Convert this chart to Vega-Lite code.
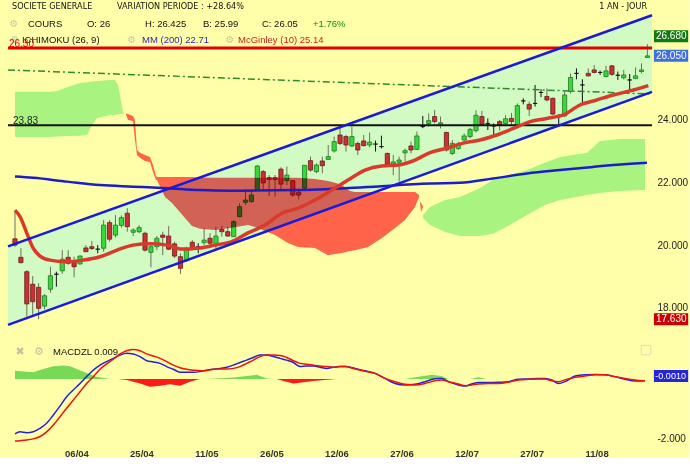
{
"$schema": "https://vega.github.io/schema/vega-lite/v6.json",
"background": "#ffffaa",
"padding": {"left": 3, "top": 0, "right": 0, "bottom": 0},
"spacing": 2,
"config": {"view": {"stroke": null}, "font": "Liberation Sans"},
"datasets": {
"chan": [{"i": -1.184, "up": 19.96, "lo": 17.45}, {"i": 107.78, "up": 27.35, "lo": 24.90}],
"dd": [{"i": -1.184, "v": 25.60}, {"i": 107.78, "v": 24.83}],
"cg": [
{"seg":"g1","i":0,"top":24.90,"bot":23.46},{"seg":"g1","i":3.05,"top":24.90,"bot":23.46},{"seg":"g1","i":5.92,"top":24.90,"bot":23.46},{"seg":"g1","i":7.11,"top":24.93,"bot":23.47},{"seg":"g1","i":8.80,"top":25.05,"bot":23.49},{"seg":"g1","i":11.0,"top":25.18,"bot":23.50},{"seg":"g1","i":12.18,"top":25.21,"bot":23.52},{"seg":"g1","i":13.03,"top":25.23,"bot":23.84},{"seg":"g1","i":13.87,"top":25.25,"bot":24.06},{"seg":"g1","i":16.07,"top":25.28,"bot":24.16},{"seg":"g1","i":16.92,"top":25.28,"bot":24.16},{"seg":"g1","i":17.43,"top":25.12,"bot":24.18},{"seg":"g1","i":18.27,"top":24.26,"bot":24.21},{"seg":"g1","i":18.53,"top":24.21,"bot":24.21},
{"seg":"g2","i":69.04,"top":20.96,"bot":20.87},{"seg":"g2","i":70.22,"top":21.22,"bot":20.64},{"seg":"g2","i":72.76,"top":21.44,"bot":20.42},{"seg":"g2","i":75.30,"top":21.54,"bot":20.29},{"seg":"g2","i":78.68,"top":21.83,"bot":20.29},{"seg":"g2","i":80.88,"top":22.08,"bot":20.36},{"seg":"g2","i":83.76,"top":22.24,"bot":20.64},{"seg":"g2","i":86.63,"top":22.40,"bot":20.96},{"seg":"g2","i":89.68,"top":22.63,"bot":21.28},{"seg":"g2","i":92.22,"top":22.82,"bot":21.44},{"seg":"g2","i":96.79,"top":22.95,"bot":21.60},{"seg":"g2","i":98.98,"top":23.33,"bot":21.67},{"seg":"g2","i":102.37,"top":23.39,"bot":21.73},{"seg":"g2","i":106.6,"top":23.39,"bot":21.76}
],
"cr": [
{"seg":"r1","i":18.78,"top":24.21,"bot":24.18},{"seg":"r1","i":19.12,"top":24.19,"bot":24.00},{"seg":"r1","i":19.97,"top":24.13,"bot":23.97},{"seg":"r1","i":20.30,"top":24.00,"bot":23.36},{"seg":"r1","i":20.64,"top":23.04,"bot":22.88},{"seg":"r1","i":21.15,"top":22.95,"bot":22.79},{"seg":"r1","i":22.0,"top":22.88,"bot":22.69},{"seg":"r1","i":22.84,"top":22.82,"bot":22.66},{"seg":"r1","i":23.35,"top":22.56,"bot":22.34},{"seg":"r1","i":23.86,"top":22.21,"bot":22.08},{"seg":"r1","i":24.03,"top":22.18,"bot":22.08},{"seg":"r1","i":25.38,"top":22.18,"bot":21.54},{"seg":"r1","i":26.57,"top":22.18,"bot":21.35},{"seg":"r1","i":28.76,"top":22.18,"bot":20.87},{"seg":"r1","i":29.95,"top":22.18,"bot":20.61},{"seg":"r1","i":31.30,"top":22.16,"bot":20.52},{"seg":"r1","i":33.84,"top":22.15,"bot":20.48},{"seg":"r1","i":36.38,"top":22.15,"bot":20.55},{"seg":"r1","i":39.42,"top":22.15,"bot":20.64},{"seg":"r1","i":41.12,"top":22.15,"bot":20.55},{"seg":"r1","i":42.30,"top":22.15,"bot":20.45},{"seg":"r1","i":43.99,"top":22.15,"bot":20.32},{"seg":"r1","i":46.19,"top":22.15,"bot":20.07},{"seg":"r1","i":47.88,"top":22.15,"bot":19.94},{"seg":"r1","i":50.76,"top":22.11,"bot":19.91},{"seg":"r1","i":52.96,"top":22.05,"bot":19.68},{"seg":"r1","i":54.15,"top":21.99,"bot":19.72},{"seg":"r1","i":55.33,"top":21.92,"bot":19.75},{"seg":"r1","i":56.68,"top":21.73,"bot":19.81},{"seg":"r1","i":57.53,"top":21.70,"bot":19.84},{"seg":"r1","i":59.73,"top":21.70,"bot":19.94},{"seg":"r1","i":62.10,"top":21.70,"bot":20.23},{"seg":"r1","i":64.30,"top":21.70,"bot":20.55},{"seg":"r1","i":65.99,"top":21.70,"bot":20.80},{"seg":"r1","i":67.68,"top":21.70,"bot":21.22},{"seg":"r1","i":68.36,"top":21.60,"bot":21.54},
{"seg":"r2","i":68.53,"top":21.40,"bot":21.35},{"seg":"r2","i":68.70,"top":21.35,"bot":21.06},{"seg":"r2","i":69.0,"top":21.25,"bot":21.20}
],
"cdl": [
{"i":0,"o":20.20,"h":21.07,"l":19.95,"c":20.00},{"i":1,"o":19.61,"h":19.90,"l":19.42,"c":19.44},{"i":2,"o":19.15,"h":19.20,"l":17.71,"c":18.12},{"i":3,"o":18.75,"h":19.01,"l":17.71,"c":18.19},{"i":4,"o":18.65,"h":18.78,"l":17.63,"c":17.98},{"i":5,"o":18.05,"h":18.44,"l":17.95,"c":18.38},{"i":6,"o":18.59,"h":19.31,"l":18.48,"c":19.02},{"i":7,"o":19.07,"h":19.15,"l":18.67,"c":19.07},{"i":8,"o":19.18,"h":19.84,"l":19.08,"c":19.55},{"i":9,"o":19.61,"h":19.84,"l":19.37,"c":19.42},
{"i":10,"o":19.49,"h":19.63,"l":18.97,"c":19.31},{"i":11,"o":19.40,"h":19.68,"l":19.37,"c":19.65},{"i":12,"o":19.91,"h":20.00,"l":19.79,"c":19.79},{"i":13,"o":19.95,"h":20.13,"l":19.84,"c":19.89},{"i":14,"o":19.87,"h":20.00,"l":19.74,"c":19.87},{"i":15,"o":19.90,"h":20.80,"l":19.79,"c":20.64},{"i":16,"o":20.72,"h":20.80,"l":20.11,"c":20.19},{"i":17,"o":20.32,"h":20.96,"l":20.25,"c":20.64},{"i":18,"o":20.63,"h":20.95,"l":20.56,"c":20.88},{"i":19,"o":21.02,"h":21.18,"l":20.43,"c":20.59},
{"i":20,"o":20.41,"h":20.54,"l":20.29,"c":20.48},{"i":21,"o":20.43,"h":20.64,"l":20.38,"c":20.56},{"i":22,"o":20.38,"h":20.43,"l":19.79,"c":19.84},{"i":23,"o":19.77,"h":20.00,"l":19.29,"c":19.95},{"i":24,"o":19.95,"h":20.29,"l":19.84,"c":20.22},{"i":25,"o":20.32,"h":20.43,"l":19.68,"c":20.25},{"i":26,"o":20.29,"h":20.61,"l":19.84,"c":19.87},{"i":27,"o":20.04,"h":20.11,"l":19.58,"c":19.65},{"i":28,"o":19.63,"h":19.74,"l":19.08,"c":19.26},{"i":29,"o":19.50,"h":19.95,"l":19.47,"c":19.87},
{"i":30,"o":20.09,"h":20.16,"l":19.84,"c":19.87},{"i":31,"o":19.95,"h":20.06,"l":19.74,"c":19.95},{"i":32,"o":20.08,"h":20.54,"l":20.00,"c":20.16},{"i":33,"o":20.22,"h":20.38,"l":19.90,"c":20.06},{"i":34,"o":20.00,"h":20.59,"l":19.84,"c":20.29},{"i":35,"o":20.50,"h":20.61,"l":20.27,"c":20.43},{"i":36,"o":20.43,"h":20.59,"l":20.27,"c":20.29},{"i":37,"o":20.27,"h":20.80,"l":20.27,"c":20.75},{"i":38,"o":20.91,"h":21.34,"l":20.89,"c":21.23},{"i":39,"o":21.37,"h":21.79,"l":21.28,"c":21.44},
{"i":40,"o":21.39,"h":21.76,"l":21.36,"c":21.60},{"i":41,"o":21.78,"h":22.56,"l":21.76,"c":22.53},{"i":42,"o":22.35,"h":22.40,"l":21.76,"c":21.99},{"i":43,"o":22.16,"h":22.24,"l":21.57,"c":22.10},{"i":44,"o":22.16,"h":22.24,"l":21.55,"c":22.10},{"i":45,"o":22.43,"h":22.49,"l":21.76,"c":21.95},{"i":46,"o":22.06,"h":22.51,"l":21.92,"c":22.24},{"i":47,"o":22.06,"h":22.08,"l":21.55,"c":21.60},{"i":48,"o":21.69,"h":21.78,"l":21.46,"c":21.60},{"i":49,"o":21.82,"h":22.56,"l":21.78,"c":22.55},
{"i":50,"o":22.70,"h":22.83,"l":22.35,"c":22.40},{"i":51,"o":22.35,"h":22.61,"l":22.30,"c":22.56},{"i":52,"o":22.69,"h":22.83,"l":22.30,"c":22.54},{"i":53,"o":22.74,"h":23.20,"l":22.72,"c":22.83},{"i":54,"o":23.01,"h":23.47,"l":22.96,"c":23.31},{"i":55,"o":23.52,"h":23.79,"l":23.20,"c":23.25},{"i":56,"o":23.47,"h":23.52,"l":22.99,"c":23.20},{"i":57,"o":23.17,"h":23.79,"l":23.13,"c":23.47},{"i":58,"o":23.25,"h":23.31,"l":22.88,"c":23.04},{"i":59,"o":23.33,"h":23.52,"l":23.15,"c":23.18},
{"i":60,"o":23.20,"h":23.60,"l":23.13,"c":23.29},{"i":61,"o":23.23,"h":23.34,"l":22.99,"c":23.23},{"i":62,"o":23.15,"h":23.50,"l":23.09,"c":23.15},{"i":63,"o":22.93,"h":22.96,"l":22.53,"c":22.59},{"i":64,"o":22.59,"h":22.88,"l":22.24,"c":22.66},{"i":65,"o":22.65,"h":22.83,"l":22.03,"c":22.72},{"i":66,"o":22.95,"h":23.09,"l":22.67,"c":23.02},{"i":67,"o":23.17,"h":23.31,"l":22.93,"c":23.04},{"i":68,"o":23.06,"h":23.63,"l":23.04,"c":23.49},{"i":69,"o":23.79,"h":24.13,"l":23.74,"c":23.79},
{"i":70,"o":23.89,"h":24.21,"l":23.79,"c":23.98},{"i":71,"o":24.11,"h":24.32,"l":23.89,"c":23.95},{"i":72,"o":23.87,"h":24.11,"l":23.73,"c":23.91},{"i":73,"o":23.60,"h":23.63,"l":22.99,"c":23.04},{"i":74,"o":22.93,"h":23.36,"l":22.88,"c":23.25},{"i":75,"o":23.09,"h":23.30,"l":23.04,"c":23.23},{"i":76,"o":23.36,"h":23.57,"l":23.31,"c":23.49},{"i":77,"o":23.47,"h":23.75,"l":23.41,"c":23.70},{"i":78,"o":23.66,"h":24.31,"l":23.60,"c":24.15},{"i":79,"o":24.11,"h":24.29,"l":23.81,"c":23.86},
{"i":80,"o":23.89,"h":24.05,"l":23.68,"c":23.89},{"i":81,"o":23.81,"h":23.89,"l":23.52,"c":23.81},{"i":82,"o":23.95,"h":24.00,"l":23.66,"c":23.84},{"i":83,"o":23.89,"h":24.15,"l":23.85,"c":24.04},{"i":84,"o":24.05,"h":24.23,"l":23.84,"c":23.95},{"i":85,"o":23.81,"h":24.53,"l":23.81,"c":24.46},{"i":86,"o":24.61,"h":24.69,"l":24.50,"c":24.61},{"i":87,"o":24.50,"h":24.59,"l":24.13,"c":24.35},{"i":88,"o":24.53,"h":25.12,"l":24.43,"c":24.53},{"i":89,"o":24.88,"h":24.98,"l":24.73,"c":24.88},
{"i":90,"o":24.75,"h":25.01,"l":24.59,"c":24.64},{"i":91,"o":24.69,"h":24.72,"l":24.16,"c":24.19},{"i":92,"o":24.14,"h":24.19,"l":23.79,"c":24.14},{"i":93,"o":24.13,"h":24.91,"l":24.09,"c":24.80},{"i":94,"o":24.91,"h":25.49,"l":24.85,"c":25.36},{"i":95,"o":25.49,"h":25.65,"l":25.30,"c":25.49},{"i":96,"o":25.12,"h":25.30,"l":24.55,"c":25.12},{"i":97,"o":25.49,"h":25.65,"l":25.39,"c":25.41},{"i":98,"o":25.60,"h":25.76,"l":25.49,"c":25.52},{"i":99,"o":25.52,"h":25.58,"l":25.44,"c":25.52},
{"i":100,"o":25.39,"h":25.73,"l":25.36,"c":25.57},{"i":101,"o":25.73,"h":25.76,"l":25.41,"c":25.46},{"i":102,"o":25.43,"h":25.55,"l":25.28,"c":25.43},{"i":103,"o":25.35,"h":25.60,"l":25.30,"c":25.44},{"i":104,"o":25.28,"h":25.47,"l":24.96,"c":25.28},{"i":105,"o":25.33,"h":25.68,"l":25.30,"c":25.41},{"i":106,"o":25.55,"h":25.81,"l":25.49,"c":25.60},{"i":107,"o":26.00,"h":26.425,"l":25.99,"c":26.05}
],
"mm": [{"i":0,"v":22.19},{"i":3.05,"v":22.15},{"i":8.80,"v":22.03},{"i":14.38,"v":21.92},{"i":19.97,"v":21.87},{"i":25.72,"v":21.82},{"i":31.30,"v":21.76},{"i":36.38,"v":21.74},{"i":47.72,"v":21.76},{"i":58.88,"v":21.85},{"i":70.22,"v":21.97},{"i":75.30,"v":21.99},{"i":80.88,"v":22.13},{"i":86.63,"v":22.29},{"i":92.22,"v":22.40},{"i":97.80,"v":22.50},{"i":103.55,"v":22.59},{"i":106.94,"v":22.63}],
"mcg": [{"i":0,"v":21.12},{"i":0.85,"v":20.91},{"i":1.98,"v":20.39},{"i":3.05,"v":19.91},{"i":4.23,"v":19.65},{"i":5.92,"v":19.52},{"i":8.80,"v":19.47},{"i":11.51,"v":19.52},{"i":14.38,"v":19.63},{"i":17.26,"v":19.84},{"i":19.97,"v":20.0},{"i":22.84,"v":20.04},{"i":25.72,"v":20.0},{"i":27.92,"v":19.88},{"i":29.61,"v":19.88},{"i":31.30,"v":19.91},{"i":33.84,"v":20.0},{"i":36.67,"v":20.11},{"i":39.42,"v":20.39},{"i":42.30,"v":20.64},{"i":45.13,"v":21.02},{"i":47.88,"v":21.18},{"i":50.76,"v":21.44},{"i":53.59,"v":21.76},{"i":56.35,"v":22.08},{"i":59.22,"v":22.40},{"i":62.05,"v":22.53},{"i":64.81,"v":22.56},{"i":67.68,"v":22.72},{"i":70.22,"v":22.96},{"i":73.05,"v":23.10},{"i":75.85,"v":23.26},{"i":78.68,"v":23.36},{"i":81.51,"v":23.52},{"i":84.31,"v":23.73},{"i":87.14,"v":23.95},{"i":89.97,"v":24.05},{"i":92.77,"v":24.16},{"i":95.60,"v":24.48},{"i":98.43,"v":24.64},{"i":101.23,"v":24.80},{"i":104.06,"v":24.93},{"i":107.16,"v":25.10}],
"tagT": [{"v":26.68,"t":"26.680","k":"g"},{"v":26.05,"t":"26.050","k":"b"},{"v":17.63,"t":"17.630","k":"r"}],
"macd": [{"i":0,"m":-1.86,"s":-2.10},{"i":0.85,"m":-1.79,"s":-2.09},{"i":1.97,"m":-1.82,"s":-2.07},{"i":3.10,"m":-1.79,"s":-2.03},{"i":4.23,"m":-1.67,"s":-1.95},{"i":5.36,"m":-1.50,"s":-1.79},{"i":6.49,"m":-1.22,"s":-1.56},{"i":7.61,"m":-0.92,"s":-1.28},{"i":8.74,"m":-0.60,"s":-0.99},{"i":9.87,"m":-0.37,"s":-0.71},{"i":11.0,"m":-0.15,"s":-0.43},{"i":12.13,"m":0.08,"s":-0.15},{"i":13.25,"m":0.30,"s":0.08},{"i":14.38,"m":0.47,"s":0.33},{"i":15.51,"m":0.59,"s":0.51},{"i":16.64,"m":0.70,"s":0.67},{"i":17.77,"m":0.81,"s":0.85},{"i":18.90,"m":0.87,"s":0.96},{"i":20.02,"m":0.85,"s":1.00},{"i":21.15,"m":0.76,"s":0.96},{"i":22.28,"m":0.62,"s":0.85},{"i":23.41,"m":0.58,"s":0.78},{"i":24.54,"m":0.53,"s":0.70},{"i":25.66,"m":0.42,"s":0.59},{"i":26.79,"m":0.33,"s":0.47},{"i":27.92,"m":0.23,"s":0.38},{"i":29.05,"m":0.23,"s":0.33},{"i":30.18,"m":0.23,"s":0.30},{"i":31.30,"m":0.25,"s":0.28},{"i":32.43,"m":0.30,"s":0.29},{"i":33.56,"m":0.33,"s":0.33},{"i":34.69,"m":0.36,"s":0.34},{"i":35.82,"m":0.40,"s":0.34},{"i":36.94,"m":0.47,"s":0.36},{"i":38.07,"m":0.56,"s":0.42},{"i":39.20,"m":0.64,"s":0.53},{"i":40.33,"m":0.73,"s":0.64},{"i":41.46,"m":0.81,"s":0.76},{"i":42.58,"m":0.81,"s":0.81},{"i":43.71,"m":0.76,"s":0.81},{"i":44.84,"m":0.70,"s":0.80},{"i":45.97,"m":0.64,"s":0.73},{"i":47.10,"m":0.56,"s":0.62},{"i":48.22,"m":0.42,"s":0.53},{"i":49.35,"m":0.44,"s":0.50},{"i":50.48,"m":0.44,"s":0.47},{"i":51.61,"m":0.40,"s":0.44},{"i":52.74,"m":0.36,"s":0.42},{"i":53.86,"m":0.40,"s":0.40},{"i":54.99,"m":0.42,"s":0.42},{"i":55.84,"m":0.42,"s":0.42},{"i":57.53,"m":0.36,"s":0.34},{"i":59.22,"m":0.28,"s":0.26},{"i":60.92,"m":0.19,"s":0.19},{"i":62.61,"m":0.02,"s":0.02},{"i":64.30,"m":-0.15,"s":-0.09},{"i":65.99,"m":-0.20,"s":-0.18},{"i":67.68,"m":-0.18,"s":-0.20},{"i":69.38,"m":-0.09,"s":-0.15},{"i":71.07,"m":0.01,"s":-0.06},{"i":72.20,"m":0.02,"s":-0.03},{"i":73.32,"m":-0.09,"s":-0.09},{"i":75.02,"m":-0.20,"s":-0.17},{"i":76.14,"m":-0.24,"s":-0.23},{"i":77.27,"m":-0.17,"s":-0.20},{"i":78.40,"m":-0.12,"s":-0.17},{"i":80.09,"m":-0.12,"s":-0.15},{"i":81.78,"m":-0.11,"s":-0.15},{"i":83.48,"m":-0.09,"s":-0.11},{"i":85.17,"m":-0.01,"s":-0.03},{"i":86.86,"m":0.0,"s":-0.01},{"i":88.55,"m":0.02,"s":0.0},{"i":89.68,"m":0.02,"s":0.0},{"i":90.81,"m":-0.03,"s":-0.06},{"i":91.94,"m":-0.15,"s":-0.09},{"i":93.06,"m":-0.09,"s":-0.03},{"i":94.76,"m":0.10,"s":0.06},{"i":96.45,"m":0.14,"s":0.10},{"i":98.14,"m":0.15,"s":0.14},{"i":99.83,"m":0.14,"s":0.14},{"i":101.53,"m":0.08,"s":0.08},{"i":103.22,"m":-0.01,"s":0.02},{"i":104.91,"m":-0.07,"s":-0.03},{"i":106.60,"m":-0.06,"s":-0.06}],
"hg": [{"seg":"a","i":0,"h":0.28},{"seg":"a","i":1.97,"h":0.25},{"seg":"a","i":3.10,"h":0.23},{"seg":"a","i":4.79,"h":0.34},{"seg":"a","i":6.49,"h":0.43},{"seg":"a","i":8.18,"h":0.46},{"seg":"a","i":9.31,"h":0.43},{"seg":"a","i":10.43,"h":0.34},{"seg":"a","i":12.13,"h":0.20},{"seg":"a","i":13.82,"h":0.08},{"seg":"a","i":15.51,"h":0.02},{"seg":"a","i":16.07,"h":0},
{"seg":"b","i":32.43,"h":0},{"seg":"b","i":36.94,"h":0.05},{"seg":"b","i":40.89,"h":0.14},{"seg":"b","i":42.58,"h":0.02},{"seg":"b","i":43.71,"h":0},
{"seg":"c","i":65.99,"h":0},{"seg":"c","i":68.26,"h":0.08},{"seg":"c","i":70.5,"h":0.14},{"seg":"c","i":72.2,"h":0.10},{"seg":"c","i":73.3,"h":0},
{"seg":"d","i":77.0,"h":0},{"seg":"d","i":78.4,"h":0.06},{"seg":"d","i":79.8,"h":0}],
"hr": [{"seg":"a","i":17.48,"h":0},{"seg":"a","i":18.90,"h":-0.03},{"seg":"a","i":21.15,"h":-0.15},{"seg":"a","i":22.84,"h":-0.26},{"seg":"a","i":24.54,"h":-0.23},{"seg":"a","i":26.23,"h":-0.18},{"seg":"a","i":27.92,"h":-0.23},{"seg":"a","i":29.61,"h":-0.09},{"seg":"a","i":31.30,"h":0},
{"seg":"b","i":44.28,"h":0},{"seg":"b","i":45.40,"h":-0.07},{"seg":"b","i":47.10,"h":-0.15},{"seg":"b","i":48.22,"h":-0.13},{"seg":"b","i":50.48,"h":-0.07},{"seg":"b","i":53.86,"h":-0.01},{"seg":"b","i":54.43,"h":0}],
"tagM": [{"v":0.10,"t":"-0.0010"}]
},
"vconcat": [
{
"width": 644, "height": 338,
"layer": [
{"data": {"name": "chan"}, "mark": {"type": "area", "color": "#d2fac3"},
 "encoding": {"x": {"field": "i", "type": "quantitative", "scale": {"domain": [-1.184, 107.78], "nice": false, "zero": false, "padding": 0}, "axis": null},
  "y": {"field": "up", "type": "quantitative", "scale": {"domain": [17.031, 27.836], "nice": false, "zero": false, "padding": 0}, "axis": {"orient": "right", "values": [18, 20, 22, 24], "format": ".3f", "labelFontSize": 10, "labelColor": "#222222", "labelPadding": 5, "title": null, "grid": false, "ticks": false, "domain": false}},
  "y2": {"field": "lo"}}},
{"data": {"name": "cg"}, "mark": {"type": "area", "color": "#a9f480"},
 "encoding": {"x": {"field": "i", "type": "quantitative", "scale": {"domain": [-1.184, 107.78], "nice": false, "zero": false, "padding": 0}, "axis": null},
  "y": {"field": "top", "type": "quantitative", "scale": {"domain": [17.031, 27.836], "nice": false, "zero": false, "padding": 0}},
  "y2": {"field": "bot"}, "detail": {"field": "seg"}}},
{"data": {"name": "cdl"}, "mark": {"type": "rule", "strokeWidth": 1},
 "encoding": {"x": {"field": "i", "type": "quantitative", "scale": {"domain": [-1.184, 107.78], "nice": false, "zero": false, "padding": 0}, "axis": null},
  "y": {"field": "l", "type": "quantitative", "scale": {"domain": [17.031, 27.836], "nice": false, "zero": false, "padding": 0}},
  "y2": {"field": "h"},
  "color": {"condition": {"test": "datum.o == datum.c", "value": "#111111"}, "value": "#6e6e60"}}},
{"data": {"name": "cdl"}, "mark": {"type": "bar", "size": 4.2, "strokeWidth": 0.8},
 "encoding": {"x": {"field": "i", "type": "quantitative", "scale": {"domain": [-1.184, 107.78], "nice": false, "zero": false, "padding": 0}, "axis": null},
  "y": {"field": "o", "type": "quantitative", "scale": {"domain": [17.031, 27.836], "nice": false, "zero": false, "padding": 0}},
  "y2": {"field": "c"},
  "fill": {"condition": [{"test": "datum.c > datum.o", "value": "#37d93a"}, {"test": "datum.c < datum.o", "value": "#c93232"}], "value": "#111111"},
  "stroke": {"condition": [{"test": "datum.c > datum.o", "value": "#1d7a1d"}, {"test": "datum.c < datum.o", "value": "#6b1a1a"}], "value": "#111111"}}},
{"data": {"name": "cr"}, "mark": {"type": "area", "color": "#ff6470", "blend": "multiply"},
 "encoding": {"x": {"field": "i", "type": "quantitative", "scale": {"domain": [-1.184, 107.78], "nice": false, "zero": false, "padding": 0}, "axis": null},
  "y": {"field": "top", "type": "quantitative", "scale": {"domain": [17.031, 27.836], "nice": false, "zero": false, "padding": 0}},
  "y2": {"field": "bot"}, "detail": {"field": "seg"}}},
{"data": {"values": [{}]}, "mark": {"type": "rule", "color": "#e00000", "strokeWidth": 3},
 "encoding": {"y": {"datum": 26.30, "type": "quantitative", "scale": {"domain": [17.031, 27.836], "nice": false, "zero": false, "padding": 0}}}},
{"data": {"values": [{}]}, "mark": {"type": "rule", "color": "#111111", "strokeWidth": 2},
 "encoding": {"y": {"datum": 23.83, "type": "quantitative", "scale": {"domain": [17.031, 27.836], "nice": false, "zero": false, "padding": 0}}}},
{"data": {"name": "dd"}, "mark": {"type": "line", "color": "#2d8a2d", "strokeWidth": 1.5, "strokeDash": [7, 3, 2, 3]},
 "encoding": {"x": {"field": "i", "type": "quantitative", "scale": {"domain": [-1.184, 107.78], "nice": false, "zero": false, "padding": 0}, "axis": null},
  "y": {"field": "v", "type": "quantitative", "scale": {"domain": [17.031, 27.836], "nice": false, "zero": false, "padding": 0}}}},
{"data": {"name": "mm"}, "mark": {"type": "line", "color": "#1c1cc8", "strokeWidth": 2.5, "interpolate": "monotone"},
 "encoding": {"x": {"field": "i", "type": "quantitative", "scale": {"domain": [-1.184, 107.78], "nice": false, "zero": false, "padding": 0}, "axis": null},
  "y": {"field": "v", "type": "quantitative", "scale": {"domain": [17.031, 27.836], "nice": false, "zero": false, "padding": 0}}}},
{"data": {"name": "mcg"}, "mark": {"type": "line", "color": "#d93a2b", "strokeWidth": 3.5, "interpolate": "monotone"},
 "encoding": {"x": {"field": "i", "type": "quantitative", "scale": {"domain": [-1.184, 107.78], "nice": false, "zero": false, "padding": 0}, "axis": null},
  "y": {"field": "v", "type": "quantitative", "scale": {"domain": [17.031, 27.836], "nice": false, "zero": false, "padding": 0}}}},
{"data": {"name": "chan"}, "mark": {"type": "line", "color": "#1a1ad8", "strokeWidth": 2.5},
 "encoding": {"x": {"field": "i", "type": "quantitative", "scale": {"domain": [-1.184, 107.78], "nice": false, "zero": false, "padding": 0}, "axis": null},
  "y": {"field": "up", "type": "quantitative", "scale": {"domain": [17.031, 27.836], "nice": false, "zero": false, "padding": 0}}}},
{"data": {"name": "chan"}, "mark": {"type": "line", "color": "#1a1ad8", "strokeWidth": 2.5},
 "encoding": {"x": {"field": "i", "type": "quantitative", "scale": {"domain": [-1.184, 107.78], "nice": false, "zero": false, "padding": 0}, "axis": null},
  "y": {"field": "lo", "type": "quantitative", "scale": {"domain": [17.031, 27.836], "nice": false, "zero": false, "padding": 0}}}},
{"data": {"name": "tagT"}, "mark": {"type": "bar", "size": 12},
 "encoding": {"x": {"datum": 108.1, "type": "quantitative", "scale": {"domain": [-1.184, 107.78], "nice": false, "zero": false, "padding": 0}, "axis": null},
  "x2": {"datum": 113.9},
  "y": {"field": "v", "type": "quantitative", "scale": {"domain": [17.031, 27.836], "nice": false, "zero": false, "padding": 0}},
  "color": {"field": "k", "type": "nominal", "scale": {"domain": ["g", "b", "r"], "range": ["#127a12", "#3d6fe0", "#cc0000"]}, "legend": null}}},
{"data": {"name": "tagT"}, "mark": {"type": "text", "align": "left", "baseline": "middle", "color": "white", "fontSize": 10},
 "encoding": {"x": {"datum": 108.45, "type": "quantitative", "scale": {"domain": [-1.184, 107.78], "nice": false, "zero": false, "padding": 0}, "axis": null},
  "y": {"field": "v", "type": "quantitative", "scale": {"domain": [17.031, 27.836], "nice": false, "zero": false, "padding": 0}},
  "text": {"field": "t"}}},
{"data": {"values": [{}]}, "mark": {"type": "text", "align": "left", "baseline": "middle", "fontSize": 9, "color": "#111111", "font": "Liberation Sans Narrow, DejaVu Sans Condensed, Liberation Sans", "text": "SOCIETE GENERALE"},
 "encoding": {"x": {"datum": -0.51, "type": "quantitative", "scale": {"domain": [-1.184, 107.78], "nice": false, "zero": false, "padding": 0}, "axis": null}, "y": {"datum": 27.63, "type": "quantitative", "scale": {"domain": [17.031, 27.836], "nice": false, "zero": false, "padding": 0}}}},
{"data": {"values": [{}]}, "mark": {"type": "text", "align": "left", "baseline": "middle", "fontSize": 9, "color": "#111111", "font": "Liberation Sans Narrow, DejaVu Sans Condensed, Liberation Sans", "text": "VARIATION PERIODE : +28.64%"},
 "encoding": {"x": {"datum": 17.26, "type": "quantitative", "scale": {"domain": [-1.184, 107.78], "nice": false, "zero": false, "padding": 0}, "axis": null}, "y": {"datum": 27.63, "type": "quantitative", "scale": {"domain": [17.031, 27.836], "nice": false, "zero": false, "padding": 0}}}},
{"data": {"values": [{}]}, "mark": {"type": "text", "align": "right", "baseline": "middle", "fontSize": 9, "color": "#111111", "font": "Liberation Sans Narrow, DejaVu Sans Condensed, Liberation Sans", "text": "1 AN - JOUR"},
 "encoding": {"x": {"datum": 106.94, "type": "quantitative", "scale": {"domain": [-1.184, 107.78], "nice": false, "zero": false, "padding": 0}, "axis": null}, "y": {"datum": 27.63, "type": "quantitative", "scale": {"domain": [17.031, 27.836], "nice": false, "zero": false, "padding": 0}}}},
{"data": {"values": [{}]}, "mark": {"type": "text", "align": "center", "baseline": "middle", "fontSize": 10, "color": "#c8c8a8", "font": "DejaVu Sans", "text": "⚙"},
 "encoding": {"x": {"datum": -0.17, "type": "quantitative", "scale": {"domain": [-1.184, 107.78], "nice": false, "zero": false, "padding": 0}, "axis": null}, "y": {"datum": 27.07, "type": "quantitative", "scale": {"domain": [17.031, 27.836], "nice": false, "zero": false, "padding": 0}}}},
{"data": {"values": [{}]}, "mark": {"type": "text", "align": "left", "baseline": "middle", "fontSize": 9.5, "color": "#111111", "text": "COURS"},
 "encoding": {"x": {"datum": 2.2, "type": "quantitative", "scale": {"domain": [-1.184, 107.78], "nice": false, "zero": false, "padding": 0}, "axis": null}, "y": {"datum": 27.07, "type": "quantitative", "scale": {"domain": [17.031, 27.836], "nice": false, "zero": false, "padding": 0}}}},
{"data": {"values": [{}]}, "mark": {"type": "text", "align": "left", "baseline": "middle", "fontSize": 9.5, "color": "#111111", "text": "O: 26"},
 "encoding": {"x": {"datum": 12.18, "type": "quantitative", "scale": {"domain": [-1.184, 107.78], "nice": false, "zero": false, "padding": 0}, "axis": null}, "y": {"datum": 27.07, "type": "quantitative", "scale": {"domain": [17.031, 27.836], "nice": false, "zero": false, "padding": 0}}}},
{"data": {"values": [{}]}, "mark": {"type": "text", "align": "left", "baseline": "middle", "fontSize": 9.5, "color": "#111111", "text": "H: 26.425"},
 "encoding": {"x": {"datum": 22.0, "type": "quantitative", "scale": {"domain": [-1.184, 107.78], "nice": false, "zero": false, "padding": 0}, "axis": null}, "y": {"datum": 27.07, "type": "quantitative", "scale": {"domain": [17.031, 27.836], "nice": false, "zero": false, "padding": 0}}}},
{"data": {"values": [{}]}, "mark": {"type": "text", "align": "left", "baseline": "middle", "fontSize": 9.5, "color": "#111111", "text": "B: 25.99"},
 "encoding": {"x": {"datum": 31.81, "type": "quantitative", "scale": {"domain": [-1.184, 107.78], "nice": false, "zero": false, "padding": 0}, "axis": null}, "y": {"datum": 27.07, "type": "quantitative", "scale": {"domain": [17.031, 27.836], "nice": false, "zero": false, "padding": 0}}}},
{"data": {"values": [{}]}, "mark": {"type": "text", "align": "left", "baseline": "middle", "fontSize": 9.5, "color": "#111111", "text": "C: 26.05"},
 "encoding": {"x": {"datum": 41.79, "type": "quantitative", "scale": {"domain": [-1.184, 107.78], "nice": false, "zero": false, "padding": 0}, "axis": null}, "y": {"datum": 27.07, "type": "quantitative", "scale": {"domain": [17.031, 27.836], "nice": false, "zero": false, "padding": 0}}}},
{"data": {"values": [{}]}, "mark": {"type": "text", "align": "left", "baseline": "middle", "fontSize": 9.5, "color": "#118811", "text": "+1.76%"},
 "encoding": {"x": {"datum": 50.42, "type": "quantitative", "scale": {"domain": [-1.184, 107.78], "nice": false, "zero": false, "padding": 0}, "axis": null}, "y": {"datum": 27.07, "type": "quantitative", "scale": {"domain": [17.031, 27.836], "nice": false, "zero": false, "padding": 0}}}},
{"data": {"values": [{}]}, "mark": {"type": "text", "align": "center", "baseline": "middle", "fontSize": 10, "color": "#c8c8a8", "font": "DejaVu Sans", "text": "⚙"},
 "encoding": {"x": {"datum": 0.0, "type": "quantitative", "scale": {"domain": [-1.184, 107.78], "nice": false, "zero": false, "padding": 0}, "axis": null}, "y": {"datum": 26.56, "type": "quantitative", "scale": {"domain": [17.031, 27.836], "nice": false, "zero": false, "padding": 0}}}},
{"data": {"values": [{}]}, "mark": {"type": "text", "align": "left", "baseline": "middle", "fontSize": 9.5, "color": "#111111", "text": "ICHIMOKU (26, 9)"},
 "encoding": {"x": {"datum": 1.18, "type": "quantitative", "scale": {"domain": [-1.184, 107.78], "nice": false, "zero": false, "padding": 0}, "axis": null}, "y": {"datum": 26.56, "type": "quantitative", "scale": {"domain": [17.031, 27.836], "nice": false, "zero": false, "padding": 0}}}},
{"data": {"values": [{}]}, "mark": {"type": "text", "align": "center", "baseline": "middle", "fontSize": 10, "color": "#c8c8a8", "font": "DejaVu Sans", "text": "⚙"},
 "encoding": {"x": {"datum": 19.75, "type": "quantitative", "scale": {"domain": [-1.184, 107.78], "nice": false, "zero": false, "padding": 0}, "axis": null}, "y": {"datum": 26.56, "type": "quantitative", "scale": {"domain": [17.031, 27.836], "nice": false, "zero": false, "padding": 0}}}},
{"data": {"values": [{}]}, "mark": {"type": "text", "align": "left", "baseline": "middle", "fontSize": 9.5, "color": "#2a2ab0", "text": "MM (200) 22.71"},
 "encoding": {"x": {"datum": 21.49, "type": "quantitative", "scale": {"domain": [-1.184, 107.78], "nice": false, "zero": false, "padding": 0}, "axis": null}, "y": {"datum": 26.56, "type": "quantitative", "scale": {"domain": [17.031, 27.836], "nice": false, "zero": false, "padding": 0}}}},
{"data": {"values": [{}]}, "mark": {"type": "text", "align": "center", "baseline": "middle", "fontSize": 10, "color": "#c8c8a8", "font": "DejaVu Sans", "text": "⚙"},
 "encoding": {"x": {"datum": 36.38, "type": "quantitative", "scale": {"domain": [-1.184, 107.78], "nice": false, "zero": false, "padding": 0}, "axis": null}, "y": {"datum": 26.56, "type": "quantitative", "scale": {"domain": [17.031, 27.836], "nice": false, "zero": false, "padding": 0}}}},
{"data": {"values": [{}]}, "mark": {"type": "text", "align": "left", "baseline": "middle", "fontSize": 9.5, "color": "#d02020", "text": "McGinley (10) 25.14"},
 "encoding": {"x": {"datum": 37.73, "type": "quantitative", "scale": {"domain": [-1.184, 107.78], "nice": false, "zero": false, "padding": 0}, "axis": null}, "y": {"datum": 26.56, "type": "quantitative", "scale": {"domain": [17.031, 27.836], "nice": false, "zero": false, "padding": 0}}}},
{"data": {"values": [{}]}, "mark": {"type": "text", "align": "left", "baseline": "alphabetic", "fontSize": 10, "color": "#e00000", "text": "26.30"},
 "encoding": {"x": {"datum": -1.02, "type": "quantitative", "scale": {"domain": [-1.184, 107.78], "nice": false, "zero": false, "padding": 0}, "axis": null}, "y": {"datum": 26.33, "type": "quantitative", "scale": {"domain": [17.031, 27.836], "nice": false, "zero": false, "padding": 0}}}},
{"data": {"values": [{}]}, "mark": {"type": "text", "align": "left", "baseline": "alphabetic", "fontSize": 10, "color": "#222222", "text": "23.83"},
 "encoding": {"x": {"datum": -0.34, "type": "quantitative", "scale": {"domain": [-1.184, 107.78], "nice": false, "zero": false, "padding": 0}, "axis": null}, "y": {"datum": 23.88, "type": "quantitative", "scale": {"domain": [17.031, 27.836], "nice": false, "zero": false, "padding": 0}}}}
]
},
{
"width": 644, "height": 105,
"layer": [
{"data": {"name": "hg"}, "mark": {"type": "area", "color": "#77d955"},
 "encoding": {"x": {"field": "i", "type": "quantitative", "scale": {"domain": [-1.184, 107.78], "nice": false, "zero": false, "padding": 0},
   "axis": {"orient": "bottom", "values": [10.4, 21.4, 32.4, 43.4, 54.4, 65.4, 76.4, 87.4, 98.4], "labelExpr": "['06/04','25/04','11/05','26/05','12/06','27/06','12/07','27/07','11/08'][round((datum.value-10.4)/11)]", "labelFontSize": 9.5, "labelFontWeight": "bold", "labelColor": "#333333", "labelPadding": 3, "labelFlush": false, "labelOverlap": false, "title": null, "grid": false, "ticks": false, "domain": false}},
  "y": {"field": "h", "type": "quantitative", "scale": {"domain": [-2.237, 1.322], "nice": false, "zero": false, "padding": 0},
   "axis": {"orient": "right", "values": [-2], "labelExpr": "datum.value < 0 ? '-' + format(-datum.value, '.3f') : format(datum.value, '.3f')", "labelFontSize": 10, "labelColor": "#222222", "labelPadding": 5, "title": null, "grid": false, "ticks": false, "domain": false}},
  "y2": {"datum": 0}, "detail": {"field": "seg"}}},
{"data": {"name": "hr"}, "mark": {"type": "area", "color": "#ff1a1a"},
 "encoding": {"x": {"field": "i", "type": "quantitative", "scale": {"domain": [-1.184, 107.78], "nice": false, "zero": false, "padding": 0}},
  "y": {"field": "h", "type": "quantitative", "scale": {"domain": [-2.237, 1.322], "nice": false, "zero": false, "padding": 0}},
  "y2": {"datum": 0}, "detail": {"field": "seg"}}},
{"data": {"name": "macd"}, "mark": {"type": "line", "color": "#2222dd", "strokeWidth": 1.5, "interpolate": "monotone"},
 "encoding": {"x": {"field": "i", "type": "quantitative", "scale": {"domain": [-1.184, 107.78], "nice": false, "zero": false, "padding": 0}},
  "y": {"field": "m", "type": "quantitative", "scale": {"domain": [-2.237, 1.322], "nice": false, "zero": false, "padding": 0}}}},
{"data": {"name": "macd"}, "mark": {"type": "line", "color": "#ee1111", "strokeWidth": 1.5, "interpolate": "monotone"},
 "encoding": {"x": {"field": "i", "type": "quantitative", "scale": {"domain": [-1.184, 107.78], "nice": false, "zero": false, "padding": 0}},
  "y": {"field": "s", "type": "quantitative", "scale": {"domain": [-2.237, 1.322], "nice": false, "zero": false, "padding": 0}}}},
{"data": {"name": "tagM"}, "mark": {"type": "bar", "size": 12, "color": "#2626d8"},
 "encoding": {"x": {"datum": 108.1, "type": "quantitative", "scale": {"domain": [-1.184, 107.78], "nice": false, "zero": false, "padding": 0}},
  "x2": {"datum": 113.9},
  "y": {"field": "v", "type": "quantitative", "scale": {"domain": [-2.237, 1.322], "nice": false, "zero": false, "padding": 0}}}},
{"data": {"name": "tagM"}, "mark": {"type": "text", "align": "left", "baseline": "middle", "color": "white", "fontSize": 9},
 "encoding": {"x": {"datum": 108.35, "type": "quantitative", "scale": {"domain": [-1.184, 107.78], "nice": false, "zero": false, "padding": 0}},
  "y": {"field": "v", "type": "quantitative", "scale": {"domain": [-2.237, 1.322], "nice": false, "zero": false, "padding": 0}},
  "text": {"field": "t"}}},
{"data": {"values": [{}]}, "mark": {"type": "text", "align": "center", "baseline": "middle", "fontSize": 11, "color": "#c0c0a8", "font": "DejaVu Sans", "text": "✖"},
 "encoding": {"x": {"datum": 0.85, "type": "quantitative", "scale": {"domain": [-1.184, 107.78], "nice": false, "zero": false, "padding": 0}}, "y": {"datum": 0.93, "type": "quantitative", "scale": {"domain": [-2.237, 1.322], "nice": false, "zero": false, "padding": 0}}}},
{"data": {"values": [{}]}, "mark": {"type": "text", "align": "center", "baseline": "middle", "fontSize": 11, "color": "#c0c0a8", "font": "DejaVu Sans", "text": "⚙"},
 "encoding": {"x": {"datum": 4.06, "type": "quantitative", "scale": {"domain": [-1.184, 107.78], "nice": false, "zero": false, "padding": 0}}, "y": {"datum": 0.93, "type": "quantitative", "scale": {"domain": [-2.237, 1.322], "nice": false, "zero": false, "padding": 0}}}},
{"data": {"values": [{}]}, "mark": {"type": "text", "align": "left", "baseline": "middle", "fontSize": 9.5, "color": "#111111", "text": "MACDZL  0.009"},
 "encoding": {"x": {"datum": 6.43, "type": "quantitative", "scale": {"domain": [-1.184, 107.78], "nice": false, "zero": false, "padding": 0}}, "y": {"datum": 0.93, "type": "quantitative", "scale": {"domain": [-2.237, 1.322], "nice": false, "zero": false, "padding": 0}}}},
{"data": {"values": [{}]}, "mark": {"type": "point", "shape": "square", "size": 90, "filled": false, "color": "#d0d0c0", "strokeWidth": 1},
 "encoding": {"x": {"datum": 106.77, "type": "quantitative", "scale": {"domain": [-1.184, 107.78], "nice": false, "zero": false, "padding": 0}}, "y": {"datum": 0.98, "type": "quantitative", "scale": {"domain": [-2.237, 1.322], "nice": false, "zero": false, "padding": 0}}}}
]
}
]
}
